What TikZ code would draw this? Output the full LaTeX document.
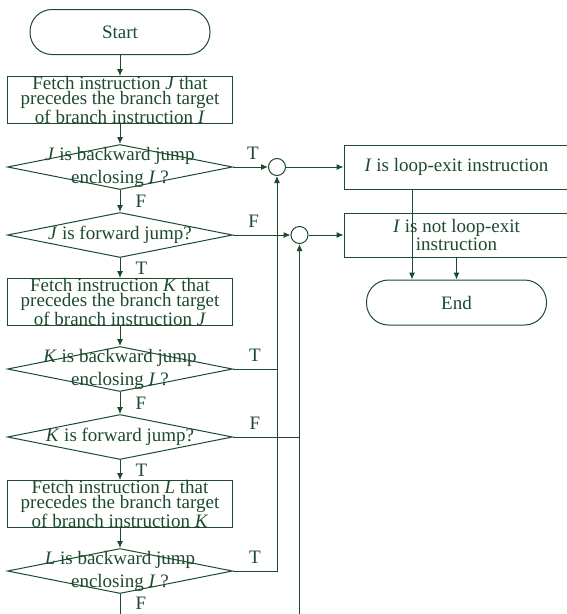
\documentclass[tikz,border=0pt]{standalone}
\usepackage{fontspec}
\setmainfont{Liberation Serif}
\usetikzlibrary{shapes.geometric, arrows.meta}
\definecolor{fc}{RGB}{28,74,46}
\newcommand\boxfont{\fontsize{19}{15}\selectfont}
\newcommand\decfont{\fontsize{19}{23}\selectfont}

\begin{document}
\begin{tikzpicture}[x=1pt, y=-1pt, line width=1pt, color=fc,
  term/.style = {draw, rounded corners=22pt, minimum width=180pt, minimum height=45pt, font=\boxfont},
  proc/.style = {draw, minimum width=225pt, minimum height=44pt, inner xsep=2pt, inner ysep=0pt, align=center, font=\boxfont},
  dec/.style = {draw, diamond, minimum width=225pt, minimum height=45pt, inner sep=0pt},
  dtxt/.style = {align=center, inner sep=0pt, font=\decfont},
  junc/.style = {draw, circle, minimum size=17pt, inner sep=0pt},
  lbl/.style = {inner sep=0pt, font=\boxfont},
  arr/.style = {-{Latex[length=7pt,width=6pt]}}]
\useasboundingbox (0,0) rectangle (567,614);

\node[term] (start) at (120,32) {Start};
\node[proc] (f1) at (120,100) {Fetch instruction \textit{J} that\\precedes the branch target\\of branch instruction \textit{I}};
\node[dec] (d1) at (120,167) {};
\node[dtxt] (d1t) at (d1) {\textit{J} is backward jump\\enclosing \textit{I} ?};
\node[dec] (d2) at (120,235) {};
\node[dtxt] (d2t) at (d2) {\textit{J} is forward jump?};
\node[proc] (f2) at (120,302) {Fetch instruction \textit{K} that\\precedes the branch target\\of branch instruction \textit{J}};
\node[dec] (d3) at (120,369) {};
\node[dtxt] (d3t) at (d3) {\textit{K} is backward jump\\enclosing \textit{I} ?};
\node[dec] (d4) at (120,437) {};
\node[dtxt] (d4t) at (d4) {\textit{K} is forward jump?};
\node[proc] (f3) at (120,504) {Fetch instruction \textit{L} that\\precedes the branch target\\of branch instruction \textit{K}};
\node[dec] (d5) at (120,571) {};
\node[dtxt] (d5t) at (d5) {\textit{L} is backward jump\\enclosing \textit{I} ?};

\node[junc] (c1) at (277,167) {};
\node[junc] (c2) at (299.5,235) {};
\node[proc] (r1) at (456.5,167) {\textit{I} is loop-exit instruction};
\node[proc] (r2) at (456.5,235) {\textit{I} is not loop-exit\\instruction};
\node[term] (end) at (456.5,302.5) {End};

\coordinate (k1) at (277,369);
\coordinate (k2) at (299.5,437);
\coordinate (l1) at (277,571);
\coordinate (out) at (120,614);
\coordinate (fin) at (299.5,614);
\coordinate (e1) at (412,189.5);

\draw[arr] (start) -- (f1);
\draw[arr] (f1) -- (d1);
\draw[arr] (d1) -- node[lbl, right=15pt] {F} (d2);
\draw[arr] (d2) -- node[lbl, right=15pt] {T} (f2);
\draw[arr] (f2) -- (d3);
\draw[arr] (d3) -- node[lbl, right=15pt] {F} (d4);
\draw[arr] (d4) -- node[lbl, right=15pt] {T} (f3);
\draw[arr] (f3) -- (d5);
\draw (d5) -- node[lbl, right=15pt, pos=0.45] {F} (out);

\draw[arr] (d1) -- node[lbl, above=7pt, pos=0.57] {T} (c1);
\draw[arr] (c1) -- (r1);
\draw[arr] (d2) -- node[lbl, above=7pt, pos=0.36] {F} (c2);
\draw[arr] (c2) -- (r2);
\draw (d3.east) -- node[lbl, above=7pt] {T} (k1);
\draw (d4.east) -- node[lbl, above=7pt, pos=0.33] {F} (k2);
\draw[arr] (d5.east) -- node[lbl, above=7pt] {T} (l1) -- (c1);
\draw[arr] (fin) -- (c2);

\draw[arr] (e1) -- (e1 |- end.north);
\draw[arr] (r2) -- (end);
\end{tikzpicture}
\end{document}
